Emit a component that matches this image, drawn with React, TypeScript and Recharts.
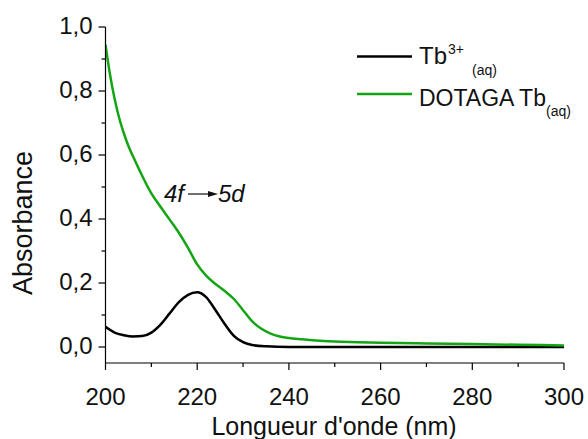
import { Line, LineChart, XAxis, YAxis } from "recharts";

const tbWavelengths = [200, 202, 204, 206, 208, 210, 212, 214, 216, 218, 220, 222, 224, 226, 228, 230, 232, 235, 240, 260, 280, 300];
const tbAbsorbance = [0.063, 0.045, 0.037, 0.033, 0.034, 0.045, 0.07, 0.105, 0.14, 0.163, 0.171, 0.155, 0.115, 0.072, 0.035, 0.015, 0.006, 0.002, 0, 0, 0, 0];

const dotagaWavelengths = [200, 201, 202, 203, 204, 205, 206, 208, 210, 212, 214, 216, 218, 220, 222, 224, 226, 228, 230, 232, 234, 236, 238, 240, 243, 246, 250, 255, 260, 270, 280, 290, 300];
const dotagaAbsorbance = [0.945, 0.85, 0.775, 0.715, 0.668, 0.628, 0.596, 0.535, 0.48, 0.438, 0.398, 0.357, 0.31, 0.258, 0.222, 0.197, 0.175, 0.15, 0.115, 0.08, 0.057, 0.042, 0.033, 0.028, 0.024, 0.02, 0.017, 0.015, 0.013, 0.011, 0.009, 0.007, 0.005];

const xTicks = [200, 210, 220, 230, 240, 250, 260, 270, 280, 290, 300];
const yTicks = [0, 0.1, 0.2, 0.3, 0.4, 0.5, 0.6, 0.7, 0.8, 0.9, 1.0];

const tbData = tbWavelengths.map((nm, i) => ({ nm, abs: tbAbsorbance[i] }));
const dotagaData = dotagaWavelengths.map((nm, i) => ({ nm, abs: dotagaAbsorbance[i] }));

const FONT = "'Liberation Sans', Arial, sans-serif";
const GREEN = "#14a514";

function XTick({ x, y, payload }: any) {
  const major = payload.value % 20 === 0;
  return (
    <g>
      <line x1={x} x2={x} y1={y} y2={y + (major ? 7 : 4)} stroke="#000" strokeWidth={1.2} />
      {major && (
        <text x={x} y={y + 42} textAnchor="middle" fontSize={24} fontFamily={FONT} fill="#111">
          {payload.value}
        </text>
      )}
    </g>
  );
}

function YTick({ x, y, payload }: any) {
  const major = Math.round(payload.value * 10) % 2 === 0;
  return (
    <g>
      <line x1={x - (major ? 7 : 4)} x2={x} y1={y} y2={y} stroke="#000" strokeWidth={1.2} />
      {major && (
        <text x={x - 13} y={y + 7} textAnchor="end" fontSize={24} fontFamily={FONT} fill="#111">
          {payload.value.toFixed(1).replace(".", ",")}
        </text>
      )}
    </g>
  );
}

export default function App() {
  return (
    <div style={{ position: "absolute", left: 0, top: 0, width: 588, height: 439, background: "#fff" }}>
      <LineChart width={588} height={439} margin={{ top: 27, right: 24, bottom: 36, left: 45.5 }}>
        <XAxis
          type="number"
          dataKey="nm"
          domain={[200, 300]}
          ticks={xTicks}
          tick={<XTick />}
          tickLine={false}
          tickSize={0}
          tickMargin={0}
          height={40}
          axisLine={{ stroke: "#000", strokeWidth: 1.2 }}
          allowDataOverflow
        />
        <YAxis
          type="number"
          domain={[-0.05, 1.0]}
          ticks={yTicks}
          tick={<YTick />}
          tickLine={false}
          tickSize={0}
          tickMargin={0}
          width={60}
          axisLine={{ stroke: "#000", strokeWidth: 1.2 }}
          allowDataOverflow
        />
        <Line data={tbData} dataKey="abs" name="Tb3+" type="monotone" stroke="#000" strokeWidth={2.5} dot={false} isAnimationActive={false} />
        <Line data={dotagaData} dataKey="abs" name="DOTAGA Tb" type="monotone" stroke={GREEN} strokeWidth={2.5} dot={false} isAnimationActive={false} />

        {/* legend */}
        <line x1={357} x2={412} y1={56.5} y2={56.5} stroke="#000" strokeWidth={2.5} />
        <text x={419} y={64} fontSize={24} fontFamily={FONT} fill="#111">
          Tb
          <tspan fontSize={14} dx={1} dy={-10}>3+</tspan>
          <tspan fontSize={14} dx={8} dy={21}>(aq)</tspan>
        </text>
        <line x1={357} x2={412} y1={94} y2={94} stroke={GREEN} strokeWidth={2.5} />
        <text x={419} y={106} fontSize={23} fontFamily={FONT} fill="#111">
          DOTAGA Tb
          <tspan fontSize={14} dy={10}>(aq)</tspan>
        </text>

        <text x={334} y={435} textAnchor="middle" fontSize={25} fontFamily={FONT} fill="#111">
          Longueur d'onde (nm)
        </text>
        <text x={32} y={223} textAnchor="middle" fontSize={27} fontFamily={FONT} fill="#111" transform="rotate(-90 32 223)">
          Absorbance
        </text>

        {/* annotation */}
        <text x={164} y={202} fontSize={24} fontFamily={FONT} fontStyle="italic" fill="#111">
          4f
        </text>
        <line x1={188} x2={212} y1={194} y2={194} stroke="#111" strokeWidth={1.2} />
        <polygon points="218,194 208,191 208,197" fill="#111" />
        <text x={218} y={202} fontSize={24} fontFamily={FONT} fontStyle="italic" fill="#111">
          5d
        </text>
      </LineChart>
    </div>
  );
}
